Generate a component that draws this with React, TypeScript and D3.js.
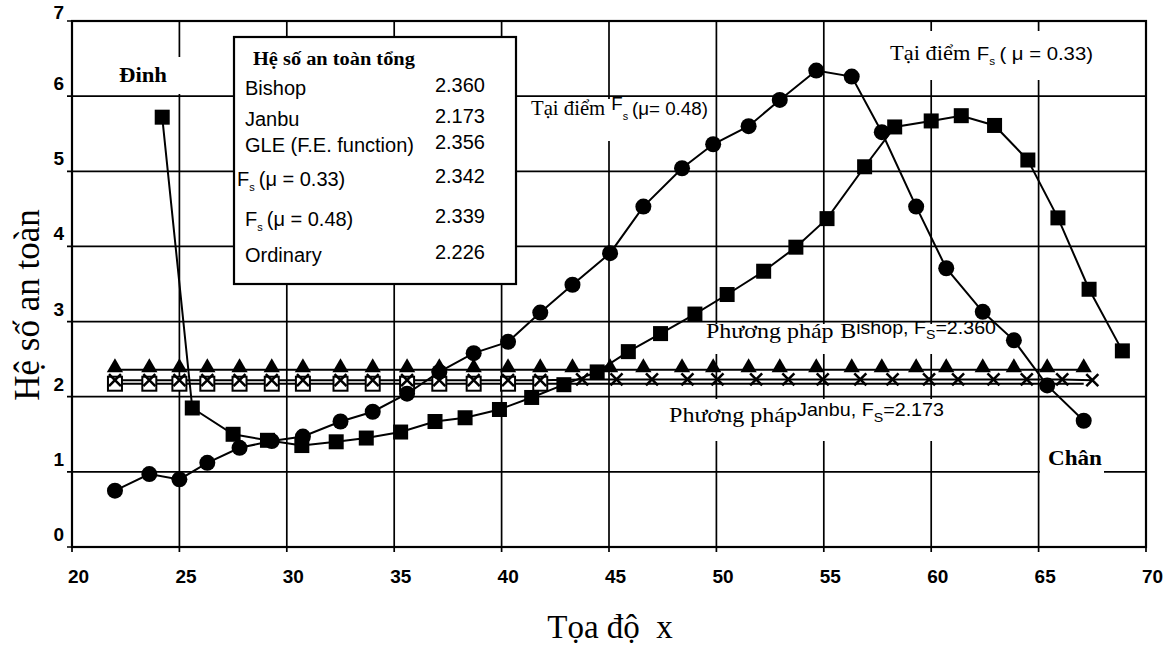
import React, { useEffect, useRef } from 'react';
import * as d3 from 'd3';

const WIDTH = 1165;
const HEIGHT = 650;
const SERIF = '"Liberation Serif", "Times New Roman", serif';
const SANS = '"Liberation Sans", Arial, sans-serif';

// slice positions (x) used by the mu = 0.48, Bishop and Janbu series
const xSlices = [22.0, 23.6, 25.0, 26.3, 27.8, 29.3, 30.75, 32.5, 34.0, 35.6, 37.1, 38.7, 40.3, 41.8, 43.3,
  45.05, 46.6, 48.4, 49.85, 51.5, 52.95, 54.65, 56.3, 57.7, 59.3, 60.7, 62.4, 63.85, 65.4, 67.1];
const fsMu048 = [0.75, 0.97, 0.9, 1.12, 1.32, 1.41, 1.47, 1.67, 1.8, 2.04, 2.33, 2.58, 2.73, 3.12, 3.49,
  3.91, 4.53, 5.04, 5.36, 5.6, 5.95, 6.34, 6.26, 5.52, 4.53, 3.71, 3.13, 2.75, 2.15, 1.68];

// mu = 0.33 series has its own x positions
const xMu033 = [24.2, 25.6, 27.5, 29.1, 30.7, 32.3, 33.7, 35.3, 36.9, 38.3, 39.9, 41.4, 42.9, 44.45, 45.9,
  47.4, 49.0, 50.5, 52.2, 53.7, 55.15, 56.9, 58.3, 60.0, 61.4, 62.95, 64.5, 65.9, 67.35, 68.9];
const fsMu033 = [5.72, 1.85, 1.5, 1.42, 1.35, 1.4, 1.45, 1.53, 1.67, 1.72, 1.83, 1.99, 2.16, 2.33, 2.6,
  2.84, 3.1, 3.36, 3.67, 3.99, 4.37, 5.06, 5.59, 5.67, 5.74, 5.61, 5.15, 4.38, 3.43, 2.61];

const bishopFs = [2.36, 2.36, 2.36, 2.36, 2.36, 2.36, 2.36, 2.36, 2.36, 2.36, 2.36, 2.36, 2.36, 2.36, 2.36,
  2.36, 2.36, 2.36, 2.36, 2.36, 2.36, 2.36, 2.36, 2.36, 2.36, 2.36, 2.36, 2.36, 2.36, 2.36];

const xOrdinary = [22.0, 23.6, 25.0, 26.3, 27.8, 29.3, 30.75, 32.5, 34.0, 35.6, 37.1, 38.7, 40.3, 41.8, 43.75,
  45.35, 47.0, 48.65, 50.05, 51.85, 53.35, 54.95, 56.7, 58.2, 59.9, 61.25, 62.9, 64.45, 66.1, 67.5];
const ordinaryFs = [2.22, 2.22, 2.22, 2.22, 2.22, 2.22, 2.22, 2.22, 2.22, 2.22, 2.22, 2.22, 2.22, 2.22, 2.23,
  2.23, 2.23, 2.23, 2.23, 2.23, 2.23, 2.23, 2.23, 2.23, 2.23, 2.23, 2.23, 2.23, 2.23, 2.22];

// Janbu: open squares on the left part, plain line across
const xJanbuPts = [22.0, 23.6, 25.0, 26.3, 27.8, 29.3, 30.75, 32.5, 34.0, 35.6, 37.1, 38.7, 40.3, 41.8];
const janbuPtsFs = [2.173, 2.173, 2.173, 2.173, 2.173, 2.173, 2.173, 2.173, 2.173, 2.173, 2.173, 2.173, 2.173, 2.173];
const xJanbuLine = [22.0, 67.1];
const janbuLineFs = [2.173, 2.173];

const xTicks = [20, 25, 30, 35, 40, 45, 50, 55, 60, 65, 70];
const yTicks = [0, 1, 2, 3, 4, 5, 6, 7];

const legendTitle = 'Hệ số an toàn tổng';
const legendNames = ['Bishop', 'Janbu', 'GLE (F.E. function)', 'F_s (μ = 0.33)', 'F_s (μ = 0.48)', 'Ordinary'];
const legendValues = ['2.360', '2.173', '2.356', '2.342', '2.339', '2.226'];

type Seg = { text: string; family?: string; size: number; weight?: string; dy?: number; gap?: number };

const App: React.FC = () => {
  const svgRef = useRef<SVGSVGElement | null>(null);

  useEffect(() => {
    d3.select(svgRef.current).selectAll('*').remove();
    const svg = d3.select(svgRef.current);

    const x = d3.scaleLinear().domain([20, 70]).range([72, 1146]);
    const y = d3.scaleLinear().domain([0, 7]).range([547, 21]);

    svg.append('rect').attr('width', WIDTH).attr('height', HEIGHT).attr('fill', '#fff');

    // draws text pieces side by side, then squeezes the group to a target width
    const label = (px: number, py: number, segs: Seg[], target?: number) => {
      const g = svg.append('g');
      let cursor = 0;
      segs.forEach(s => {
        const t = g
          .append('text')
          .attr('x', cursor)
          .attr('y', s.dy ?? 0)
          .attr('font-family', s.family ?? SANS)
          .attr('font-size', s.size)
          .attr('font-weight', s.weight ?? 'normal')
          .attr('fill', '#000')
          .text(s.text);
        cursor += (t.node() as SVGTextElement).getComputedTextLength() + (s.gap ?? 0);
      });
      const k = target ? target / cursor : 1;
      g.attr('transform', `translate(${px},${py}) scale(${k},1)`);
      return g;
    };

    // grid
    const grid = svg.append('g').attr('stroke', '#000').attr('stroke-width', 1.7);
    xTicks.forEach(t => {
      grid.append('line').attr('x1', x(t)).attr('x2', x(t)).attr('y1', y(7)).attr('y2', y(0) + 5);
    });
    yTicks.forEach(t => {
      grid.append('line').attr('x1', x(20) - 5).attr('x2', x(70)).attr('y1', y(t)).attr('y2', y(t));
    });
    svg
      .append('rect')
      .attr('x', x(20))
      .attr('y', y(7))
      .attr('width', x(70) - x(20))
      .attr('height', y(0) - y(7))
      .attr('fill', 'none')
      .attr('stroke', '#000')
      .attr('stroke-width', 2.2);

    // tick labels
    xTicks.forEach(t => {
      svg
        .append('text')
        .attr('x', x(t) - 4)
        .attr('y', 583)
        .attr('font-family', SANS)
        .attr('font-size', 19)
        .attr('font-weight', 'bold')
        .text(t);
    });
    yTicks.forEach(t => {
      svg
        .append('text')
        .attr('x', 64)
        .attr('y', t === 7 ? y(t) - 2 : y(t) - 6)
        .attr('text-anchor', 'end')
        .attr('font-family', SANS)
        .attr('font-size', 19)
        .attr('font-weight', 'bold')
        .text(t);
    });

    // axis titles
    svg
      .append('text')
      .attr('transform', 'translate(39,305) rotate(-90)')
      .attr('text-anchor', 'middle')
      .attr('font-family', SERIF)
      .attr('font-size', 35)
      .text('Hệ số an toàn');
    svg
      .append('text')
      .attr('x', 610)
      .attr('y', 638)
      .attr('text-anchor', 'middle')
      .attr('font-family', SERIF)
      .attr('font-size', 33)
      .style('white-space', 'pre')
      .text('Tọa độ  x');

    // white text boxes of the annotations
    const boxes: [number, number, number, number][] = [
      [106, 57, 88, 37],
      [860, 31, 272, 49],
      [522, 99, 190, 42],
      [700, 324, 300, 30],
      [660, 399, 290, 42],
      [1040, 442, 64, 34],
    ];
    boxes.forEach(([bx, by, bw, bh]) => {
      svg.append('rect').attr('x', bx).attr('y', by).attr('width', bw).attr('height', bh).attr('fill', '#fff');
    });

    label(119, 82, [{ text: 'Đinh', family: SERIF, size: 22, weight: 'bold' }], 48);
    label(
      890,
      60,
      [
        { text: 'Tại điểm', family: SERIF, size: 21, gap: 6 },
        { text: 'F', size: 19 },
        { text: 's', size: 11, dy: 5, gap: 4 },
        { text: '( μ = 0.33)', size: 19 },
      ],
      203
    );
    label(
      531,
      115,
      [
        { text: 'Tại điểm', family: SERIF, size: 21, gap: 6 },
        { text: 'F', size: 19, dy: -5 },
        { text: 's', size: 11, dy: 5, gap: 4 },
        { text: '(μ= 0.48)', size: 19 },
      ],
      177
    );
    label(
      706,
      338,
      [
        { text: 'Phương pháp', family: SERIF, size: 22, gap: 6 },
        { text: 'B', family: SERIF, size: 22 },
        { text: 'ishop, F', size: 18, dy: -4 },
        { text: 'S', size: 13, dy: 1 },
        { text: '=2.360', size: 18, dy: -4 },
      ],
      290
    );
    label(
      669,
      422,
      [
        { text: 'Phương pháp', family: SERIF, size: 22 },
        { text: 'Janbu, F', size: 18, dy: -6 },
        { text: 'S', size: 13, dy: 0 },
        { text: '=2.173', size: 18, dy: -6 },
      ],
      275
    );
    label(1048, 465, [{ text: 'Chân', family: SERIF, size: 22, weight: 'bold' }], 54);

    // series
    const line = d3
      .line<[number, number]>()
      .x(d => x(d[0]))
      .y(d => y(d[1]));
    const zip = (xs: number[], ys: number[]) => xs.map((v, i) => [v, ys[i]] as [number, number]);
    const series = svg.append('g');
    const drawLine = (xs: number[], ys: number[]) =>
      series
        .append('path')
        .attr('d', line(zip(xs, ys)))
        .attr('fill', 'none')
        .attr('stroke', '#000')
        .attr('stroke-width', 2);

    drawLine(xJanbuLine, janbuLineFs);
    drawLine(xOrdinary, ordinaryFs);
    drawLine(xSlices, bishopFs);
    drawLine(xSlices, fsMu048);
    drawLine(xMu033, fsMu033);

    // Janbu open squares
    zip(xJanbuPts, janbuPtsFs).forEach(([a, b]) => {
      series
        .append('rect')
        .attr('x', x(a) - 7)
        .attr('y', y(b) - 7)
        .attr('width', 14)
        .attr('height', 14)
        .attr('fill', '#fff')
        .attr('stroke', '#000')
        .attr('stroke-width', 2);
    });
    // Ordinary crosses
    zip(xOrdinary, ordinaryFs).forEach(([a, b]) => {
      const cx = x(a);
      const cy = y(b);
      series
        .append('path')
        .attr('d', `M${cx - 6},${cy - 6}L${cx + 6},${cy + 6}M${cx - 6},${cy + 6}L${cx + 6},${cy - 6}`)
        .attr('stroke', '#000')
        .attr('stroke-width', 2.6);
    });
    // Bishop triangles
    const tri = d3.symbol().type(d3.symbolTriangle).size(115);
    zip(xSlices, bishopFs).forEach(([a, b]) => {
      series
        .append('path')
        .attr('d', tri())
        .attr('transform', `translate(${x(a)},${y(b) - 2})`)
        .attr('fill', '#000');
    });
    // mu = 0.48 circles
    zip(xSlices, fsMu048).forEach(([a, b]) => {
      series.append('circle').attr('cx', x(a)).attr('cy', y(b)).attr('r', 8).attr('fill', '#000');
    });
    // mu = 0.33 squares
    zip(xMu033, fsMu033).forEach(([a, b]) => {
      series
        .append('rect')
        .attr('x', x(a) - 7.5)
        .attr('y', y(b) - 7.5)
        .attr('width', 15)
        .attr('height', 15)
        .attr('fill', '#000');
    });

    // legend box
    svg
      .append('rect')
      .attr('x', 234)
      .attr('y', 37)
      .attr('width', 282)
      .attr('height', 247)
      .attr('fill', '#fff')
      .attr('stroke', '#000')
      .attr('stroke-width', 2.2);
    label(253, 65, [{ text: legendTitle, family: SERIF, size: 19, weight: 'bold' }], 162);
    const rowY = [95, 126, 152, 186, 226, 262];
    legendNames.forEach((name, i) => {
      const segs: Seg[] = name.startsWith('F_s')
        ? [
            { text: 'F', size: 20 },
            { text: 's', size: 11, dy: 5, gap: 4 },
            { text: name.slice(4), size: 20 },
          ]
        : [{ text: name, size: 20 }];
      label(i === 3 ? 237 : 245, rowY[i], segs);
      svg
        .append('text')
        .attr('x', 485)
        .attr('y', rowY[i] - 3)
        .attr('text-anchor', 'end')
        .attr('font-family', SANS)
        .attr('font-size', 20)
        .text(legendValues[i]);
    });
  }, []);

  return (
    <svg
      ref={svgRef}
      width={WIDTH}
      height={HEIGHT}
      style={{ position: 'absolute', left: 0, top: 0 }}
    ></svg>
  );
};

export default App;
